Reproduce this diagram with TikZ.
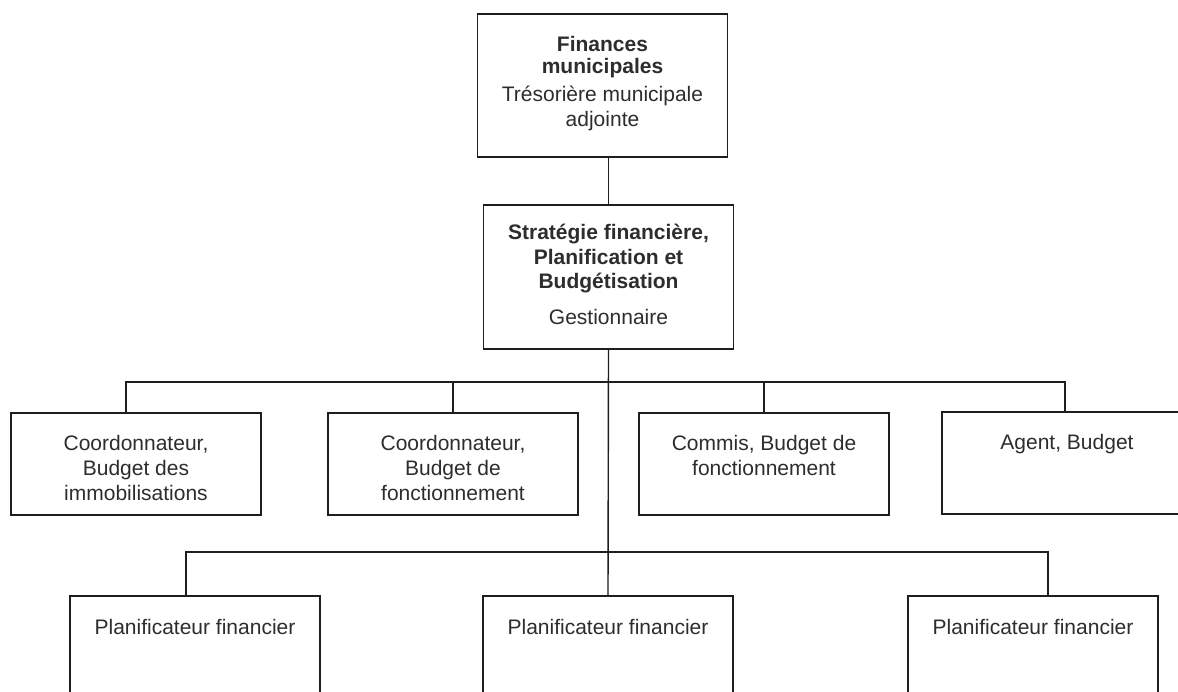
\documentclass[tikz,border=0pt]{standalone}
\usepackage{fontspec}
\setmainfont{Liberation Sans}
\definecolor{txt}{RGB}{45,45,45}
\definecolor{ln}{RGB}{30,30,30}
\newcommand\bxt[3]{\parbox[c][#1][t]{250pt}{\centering\rule{0pt}{#2}#3}}
\begin{document}
\begin{tikzpicture}[x=1pt,y=-1pt,
  orgbox/.style={draw=ln, line width=1.4pt, inner sep=0pt, fill=white,
    font=\fontsize{21}{25}\selectfont, text=txt},
  link/.style={draw=ln, line width=1.4pt}]
\clip (0,0) rectangle (1178,692);
\fill[white] (0,0) rectangle (1178,692);

% top boxes
\node[orgbox] (top) at (602.5,85.5) {\bxt{143pt}{38pt}{\textbf{Finances}\\[-3pt]\textbf{municipales}\\[3pt]Trésorière municipale\\adjointe}};
\node[orgbox] (mgr) at (608.5,277) {\bxt{144pt}{35pt}{\textbf{Stratégie financière,}\\\textbf{Planification et}\\[-1pt]\textbf{Budgétisation}\\[11pt]Gestionnaire}};

% first row
\node[orgbox] (A) at (136,464) {\bxt{102pt}{37pt}{Coordonnateur,\\Budget des\\immobilisations}};
\node[orgbox] (B) at (453,464) {\bxt{102pt}{37pt}{Coordonnateur,\\Budget de\\fonctionnement}};
\node[orgbox] (C) at (764,464) {\bxt{102pt}{37pt}{Commis, Budget de\\fonctionnement}};
\node[orgbox] (D) at (1067,463) {\bxt{102pt}{37pt}{Agent, Budget}};

% second row
\node[orgbox] (E) at (195,666) {\bxt{140pt}{38pt}{Planificateur financier}};
\node[orgbox] (F) at (608,666) {\bxt{140pt}{38pt}{Planificateur financier}};
\node[orgbox] (G) at (1033,666) {\bxt{140pt}{38pt}{Planificateur financier}};

% bus coordinates
\coordinate (ua) at (126,382);
\coordinate (ud) at (1065,382);
\coordinate (la) at (186,552);
\coordinate (lg) at (1048,552);

% connectors
\draw[link] (mgr.north) -- (mgr.north |- top.south);
\draw[link] (mgr.south) -- (F.north);
\draw[link] (ua |- A.north) -- (ua) -- (ud) -- (ud |- D.north);
\draw[link] (B.north) -- (B.north |- ua);
\draw[link] (C.north) -- (C.north |- ua);
\draw[link] (la |- E.north) -- (la) -- (lg) -- (lg |- G.north);
\end{tikzpicture}
\end{document}
